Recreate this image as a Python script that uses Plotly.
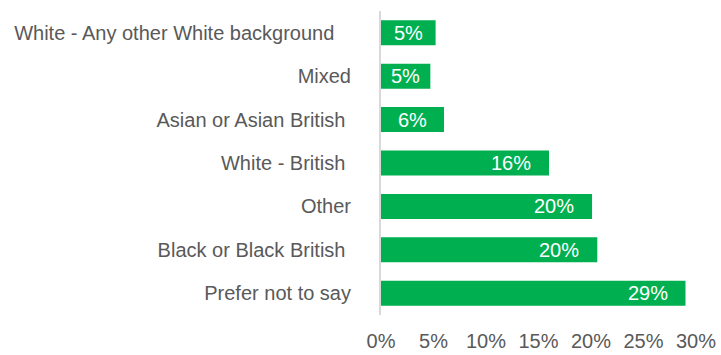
import plotly.graph_objects as go

categories = ["White - Any other White background", "Mixed", "Asian or Asian British",
              "White - British", "Other", "Black or Black British", "Prefer not to say"]
values = [5.2, 4.7, 6.0, 16.0, 20.1, 20.6, 29.0]
bar_labels = ["5%", "5%", "6%", "16%", "20%", "20%", "29%"]
# tick labels as shown (some carry trailing spaces in the source)
y_tick_labels = ["White - Any other White background\u00a0\u00a0\u00a0", "Mixed",
                 "Asian or Asian British\u00a0", "White - British\u00a0", "Other",
                 "Black or Black British\u00a0", "Prefer not to say"]
x_ticks = [0, 5, 10, 15, 20, 25, 30]
x_tick_labels = ["0%", "5%", "10%", "15%", "20%", "25%", "30%"]

GREEN = "#00B050"
GREY = "#595959"
FONT = "Liberation Sans, Arial, sans-serif"

fig = go.Figure(go.Bar(
    y=categories, x=values, orientation="h",
    marker=dict(color=GREEN, line=dict(width=0)),
    hoverinfo="skip",
))

for c, v, t in zip(categories, values, bar_labels):
    if v >= 10:
        fig.add_annotation(x=v, y=c, text=t, xanchor="right", xshift=-16, showarrow=False,
                           font=dict(family=FONT, size=20, color="white"))
    else:
        fig.add_annotation(x=v / 2, y=c, text=t, xanchor="center", showarrow=False,
                           font=dict(family=FONT, size=20, color="white"))

fig.update_layout(
    width=721, height=355,
    margin=dict(l=381, r=25, t=11, b=40, autoexpand=False),
    paper_bgcolor="white", plot_bgcolor="white",
    bargap=0.425, showlegend=False,
    font=dict(family=FONT, size=20, color=GREY),
)
fig.update_xaxes(range=[0, 30], tickvals=x_ticks, ticktext=x_tick_labels,
                 showgrid=False, zeroline=False, showline=False, automargin=False,
                 ticklabelstandoff=12,
                 tickfont=dict(family=FONT, size=20, color=GREY), fixedrange=True)
fig.update_yaxes(autorange="reversed", showgrid=False, zeroline=False,
                 tickvals=categories, ticktext=y_tick_labels,
                 showline=True, linecolor="#D9D9D9", linewidth=2, automargin=False,
                 ticks="", ticklabelstandoff=24,
                 tickfont=dict(family=FONT, size=20, color=GREY), fixedrange=True)

fig.write_html("out.html", config={"displayModeBar": False})
